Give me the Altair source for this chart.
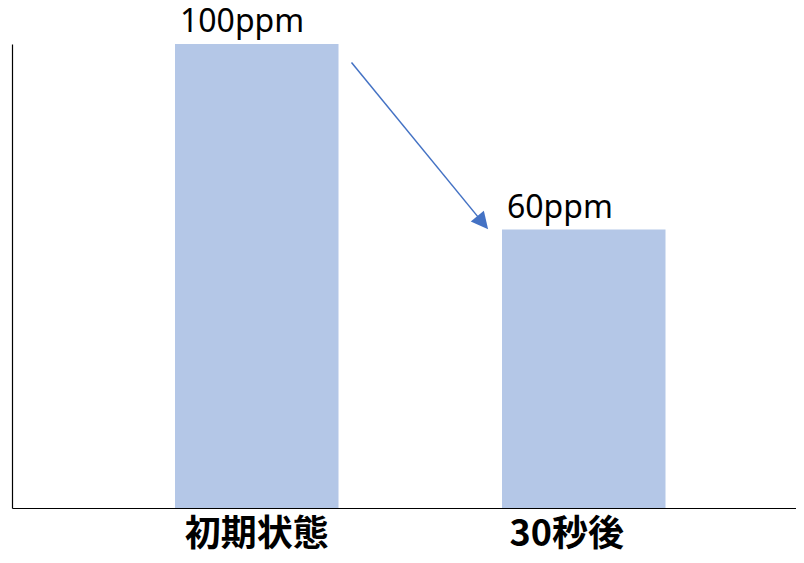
import altair as alt
import pandas as pd

categories = ["初期状態", "30秒後"]
values = [100, 60]
value_labels = ["100ppm", "60ppm"]

arrow_from = ["初期状態"]
arrow_to = ["30秒後"]
arrow_y_from = [96]
arrow_y_to = [61.5]

bars_df = pd.DataFrame({"cat": categories, "val": values, "label": value_labels})
arrow_df = pd.DataFrame({"cat": arrow_from, "cat2": arrow_to, "y": arrow_y_from, "y2": arrow_y_to})

BAR = "#B4C7E7"
ARROW = "#4472C4"

xscale = alt.Scale(domain=categories, paddingInner=0.5, paddingOuter=0.4488, align=0.5554)
yscale = alt.Scale(domain=[0, 100], nice=False)

xaxis = alt.Axis(
    title=None, ticks=False, grid=False, domainColor="black", domainWidth=1.2,
    labelFont="Noto Sans CJK JP", labelFontSize=36, labelFontWeight="bold",
    labelColor="black", labelPadding=9, labelAngle=0,
    labelOffset={"condition": {"test": "datum.label == '30秒後'", "value": -17}, "value": 0},
)
yaxis = alt.Axis(title=None, ticks=False, labels=False, grid=False, domainColor="black", domainWidth=1.2)

bars = alt.Chart(bars_df).mark_bar(color=BAR, strokeWidth=0).encode(
    x=alt.X("cat:N", scale=xscale, axis=xaxis, sort=categories),
    y=alt.Y("val:Q", scale=yscale, axis=yaxis),
)

texts = alt.Chart(bars_df).mark_text(
    align="left", baseline="alphabetic", dx=5, dy=-12,
    font="Noto Sans", fontSize=32, color="black",
).encode(
    x=alt.X("cat:N", scale=xscale, sort=categories, bandPosition=0, axis=xaxis),
    y=alt.Y("val:Q", scale=yscale, axis=yaxis),
    text="label:N",
)

line = alt.Chart(arrow_df).mark_rule(
    color=ARROW, strokeWidth=1.5, xOffset=13, x2Offset=-19.3,
).encode(
    x=alt.X("cat:N", scale=xscale, sort=categories, bandPosition=1, axis=xaxis),
    x2=alt.X2("cat2", bandPosition=0),
    y=alt.Y("y:Q", scale=yscale, axis=yaxis),
    y2="y2:Q",
)

head = alt.Chart(arrow_df).mark_point(
    shape="M0,-1L-1,1L1,1Z", size=289, filled=True, opacity=1, color=ARROW,
    angle=140.5, xOffset=-19.3,
).encode(
    x=alt.X("cat2:N", scale=xscale, sort=categories, bandPosition=0, axis=xaxis),
    y=alt.Y("y2:Q", scale=yscale, axis=yaxis),
)

chart = alt.layer(bars, line, head, texts).properties(
    width=784, height=464,
    autosize="none",
    padding={"left": 4, "top": 36, "right": 0, "bottom": 46},
    view=alt.ViewBackground(strokeWidth=0, strokeOpacity=0),
).configure_view(
    strokeWidth=0, strokeOpacity=0
).configure_axis(grid=False).configure(background="white")

chart.save("out.html", embed_options={"renderer": "svg", "actions": False})
